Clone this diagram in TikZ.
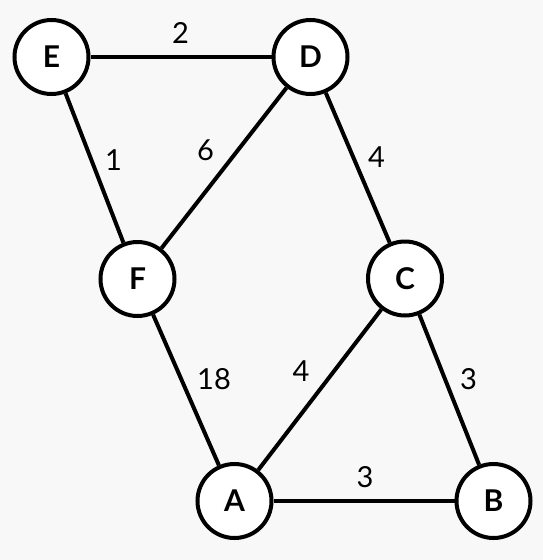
\documentclass[tikz,border=0pt]{standalone}
\usepackage{fontspec}
\setmainfont{Lato}
\begin{document}
\begin{tikzpicture}[x=1pt,y=-1pt,
  vert/.style={circle,draw,fill=white,line width=4pt,minimum size=74pt,inner sep=0pt,font=\fontsize{30}{34}\selectfont\bfseries},
  edge/.style={line width=4pt},
  wt/.style={font=\fontsize{29}{33}\selectfont,inner sep=0pt}]
\fill[fill={rgb,255:red,248;green,248;blue,248}] (0,0) rectangle (543,560);
\useasboundingbox (0,0) rectangle (543,560);
\node[vert] (E) at (51.5,57) {E};
\node[vert] (D) at (310.5,57) {D};
\node[vert] (F) at (137.5,279) {F};
\node[vert] (C) at (405,278.5) {C};
\node[vert] (A) at (234.5,501) {A};
\node[vert] (B) at (493.5,501) {B};
\draw[edge] (E) -- (D);
\draw[edge] (E) -- (F);
\draw[edge] (D) -- (F);
\draw[edge] (D) -- (C);
\draw[edge] (F) -- (A);
\draw[edge] (C) -- (A);
\draw[edge] (C) -- (B);
\draw[edge] (A) -- (B);
\node[wt] (w1) at (180.5,33) {2};
\node[wt] (w2) at (113.5,160) {1};
\node[wt] (w3) at (205.5,150) {6};
\node[wt] (w4) at (376.5,157) {4};
\node[wt] (w5) at (214,379) {18};
\node[wt] (w6) at (301,371) {4};
\node[wt] (w7) at (468.5,379) {3};
\node[wt] (w8) at (365,477) {3};
\end{tikzpicture}
\end{document}
